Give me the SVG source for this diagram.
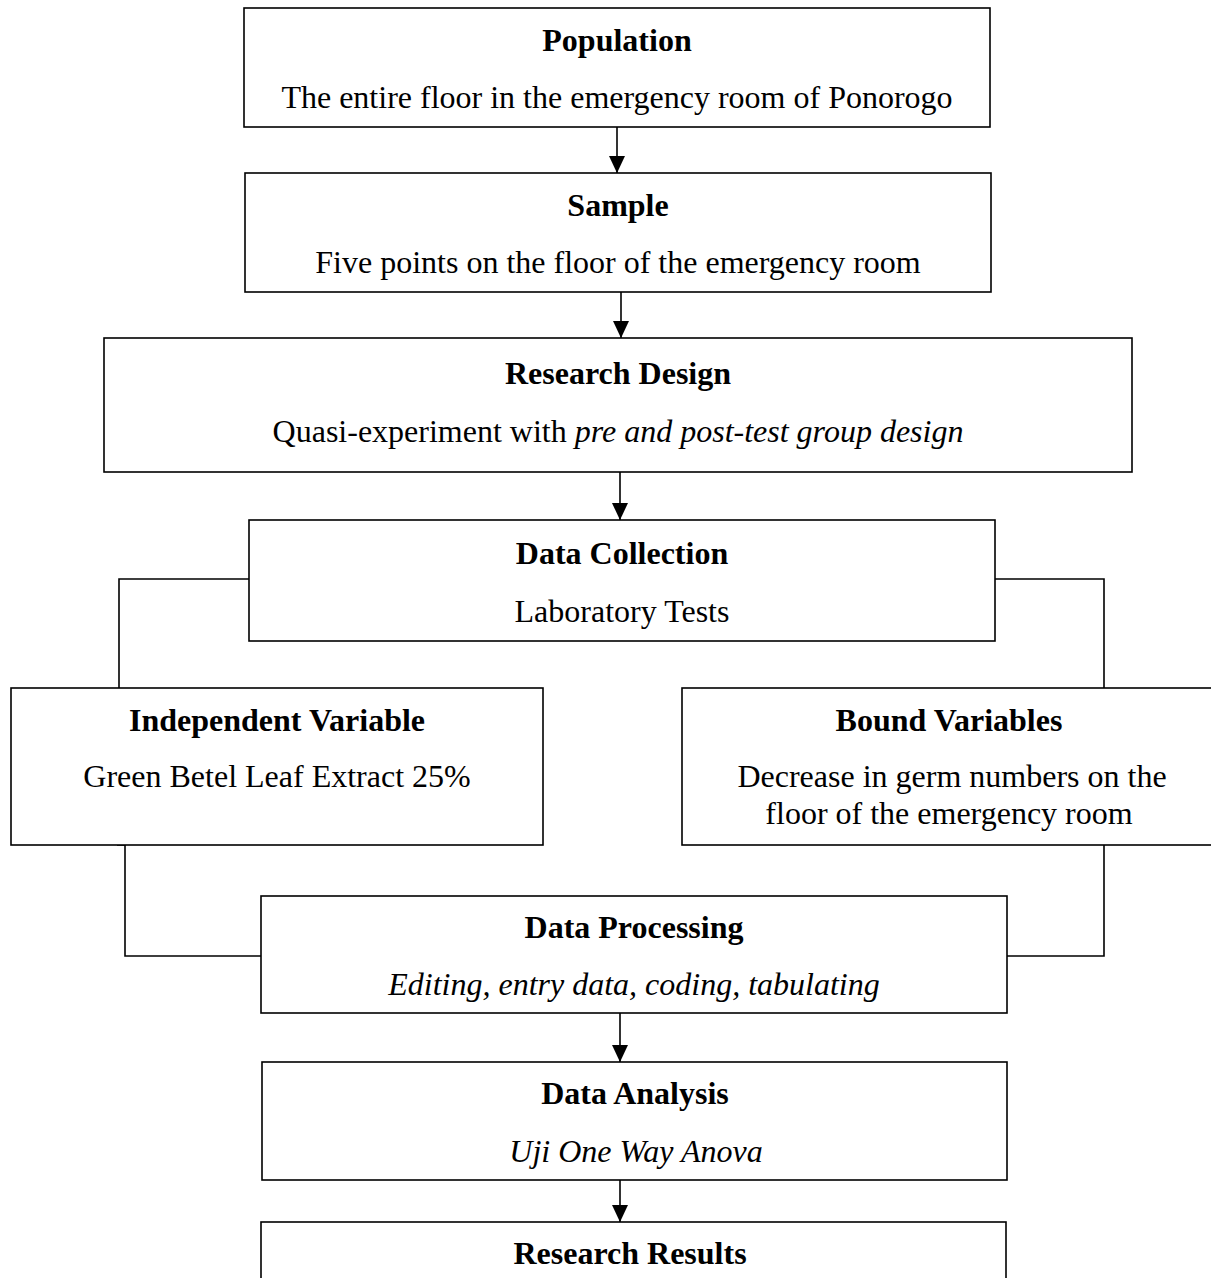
<svg xmlns="http://www.w3.org/2000/svg" width="1211" height="1278" viewBox="0 0 1211 1278">
<style>
.box{fill:#fff;stroke:#000;stroke-width:1.6}
.t{font-family:"Liberation Serif","Times New Roman",serif;font-size:32px;fill:#000;text-anchor:middle}
.b{font-weight:bold}
.i{font-style:italic}
.c{fill:none;stroke:#000;stroke-width:1.6}
</style>
<defs>
<marker id="ah" markerUnits="userSpaceOnUse" markerWidth="18" markerHeight="16" refX="17" refY="8" orient="auto">
<path d="M0,0 L17,8 L0,16 Z" fill="#000"/>
</marker>
</defs>
<rect width="1211" height="1278" fill="#fff"/>
<g id="connectors">
<line class="c" x1="617" y1="127" x2="617" y2="173" marker-end="url(#ah)"/>
<line class="c" x1="621" y1="292" x2="621" y2="338" marker-end="url(#ah)"/>
<line class="c" x1="620" y1="472" x2="620" y2="520" marker-end="url(#ah)"/>
<polyline class="c" points="249,579 119,579 119,688"/>
<polyline class="c" points="995,579 1104,579 1104,688"/>
<polyline class="c" points="117,845 125,845 125,956 261,956"/>
<polyline class="c" points="1104,845 1104,956 1007,956"/>
<line class="c" x1="620" y1="1013" x2="620" y2="1062" marker-end="url(#ah)"/>
<line class="c" x1="620" y1="1175" x2="620" y2="1222" marker-end="url(#ah)"/>
</g>
<g id="population">
<rect class="box" x="244" y="8" width="746" height="119"/>
<text class="t b" x="617" y="51">Population</text>
<text class="t" x="617" y="108">The entire floor in the emergency room of Ponorogo</text>
</g>
<g id="sample">
<rect class="box" x="245" y="173" width="746" height="119"/>
<text class="t b" x="618" y="216">Sample</text>
<text class="t" x="618" y="273">Five points on the floor of the emergency room</text>
</g>
<g id="research-design">
<rect class="box" x="104" y="338" width="1028" height="134"/>
<text class="t b" x="618" y="384">Research Design</text>
<text class="t" x="618" y="442">Quasi-experiment with <tspan class="i">pre and post-test group design</tspan></text>
</g>
<g id="data-collection">
<rect class="box" x="249" y="520" width="746" height="121"/>
<text class="t b" x="622" y="564">Data Collection</text>
<text class="t" x="622" y="622">Laboratory Tests</text>
</g>
<g id="independent-variable">
<rect class="box" x="11" y="688" width="532" height="157"/>
<text class="t b" x="277" y="731">Independent Variable</text>
<text class="t" x="277" y="787">Green Betel Leaf Extract 25%</text>
</g>
<g id="bound-variables">
<rect class="box" x="682" y="688" width="540" height="157"/>
<text class="t b" x="949" y="731">Bound Variables</text>
<text class="t" x="952" y="787">Decrease in germ numbers on the</text>
<text class="t" x="949" y="824">floor of the emergency room</text>
</g>
<g id="data-processing">
<rect class="box" x="261" y="896" width="746" height="117"/>
<text class="t b" x="634" y="938">Data Processing</text>
<text class="t i" x="634" y="995">Editing, entry data, coding, tabulating</text>
</g>
<g id="data-analysis">
<rect class="box" x="262" y="1062" width="745" height="118"/>
<text class="t b" x="635" y="1104">Data Analysis</text>
<text class="t i" x="636" y="1162">Uji One Way Anova</text>
</g>
<g id="research-results">
<rect class="box" x="261" y="1222" width="745" height="80"/>
<text class="t b" x="630" y="1264">Research Results</text>
</g>
</svg>
